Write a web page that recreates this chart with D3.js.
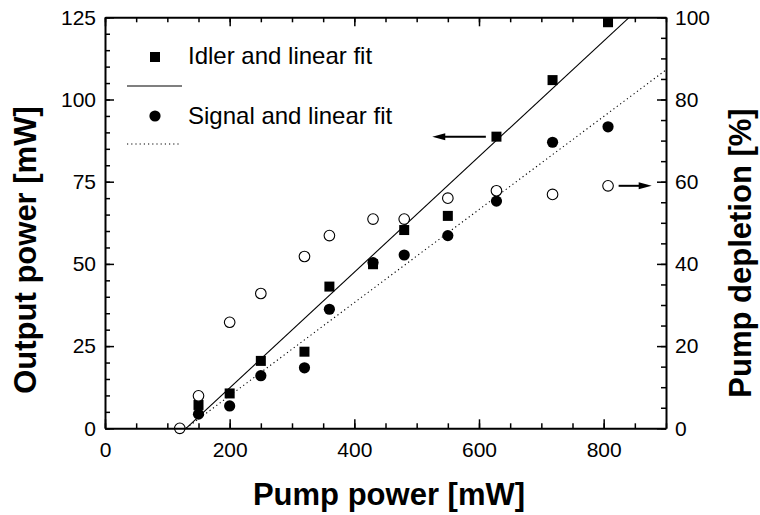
<!DOCTYPE html>
<html>
<head>
<meta charset="utf-8">
<script src="https://cdn.jsdelivr.net/npm/d3@7"></script>
<style>
  body { margin: 0; background: #fff; }
  text { font-family: "Liberation Sans", Arial, sans-serif; fill: #000; }
</style>
</head>
<body>
<div id="container"></div>
<script>
const width = 760, height = 515;
const margin = { top: 17.3, right: 94, bottom: 86.7, left: 105 };
const iw = width - margin.left - margin.right;
const ih = height - margin.top - margin.bottom;

// --- Data ---
const pumpPower = [150, 200, 250, 320, 360, 430, 480, 550, 628, 718, 807];
const idler = [7.1, 10.6, 20.5, 23.3, 43.1, 49.9, 60.3, 64.6, 88.7, 105.9, 123.5];
const signal = [4.3, 6.8, 16.0, 18.4, 36.2, 50.4, 52.7, 58.6, 69.1, 87.0, 91.7];
const depletionPump = [120, 150, 200, 250, 320, 360, 430, 480, 550, 628, 718, 807];
const depletion = [0, 7.9, 25.8, 32.8, 41.8, 46.9, 50.9, 50.9, 56.0, 57.8, 56.9, 59.0];
const idlerFit = [[130, 0], [841, 125]];
const signalFit = [[130, 0], [900, 109]];

const xMajor = [0, 200, 400, 600, 800];
const xMinor = d3.range(0, 901, 50);
const yLeftMajor = [0, 25, 50, 75, 100, 125];
const yLeftMinor = d3.range(0, 126, 5);
const yRightMajor = [0, 20, 40, 60, 80, 100];
const yRightMinor = d3.range(0, 101, 5);

// --- SVG mount ---
const svg = d3.select("#container")
  .append("svg").attr("width", width).attr("height", height);
const g = svg.append("g").attr("transform", `translate(${margin.left},${margin.top})`);

// --- Scales ---
const x = d3.scaleLinear().domain([0, 900]).range([0, iw]);
const y = d3.scaleLinear().domain([0, 125]).range([ih, 0]);
const y2 = d3.scaleLinear().domain([0, 100]).range([ih, 0]);

// --- Fit lines ---
const line = d3.line().x((d) => x(d[0])).y((d) => y(d[1]));
g.append("path").datum(idlerFit)
  .attr("fill", "none").attr("stroke", "#000").attr("stroke-width", 1.1)
  .attr("d", line);
g.append("path").datum(signalFit)
  .attr("fill", "none").attr("stroke", "#000").attr("stroke-width", 1.1)
  .attr("stroke-dasharray", "1.2,3")
  .attr("d", line);

// --- Markers ---
const sq = 10;
g.selectAll(".idler").data(pumpPower).join("rect")
  .attr("x", (d) => x(d) - sq / 2)
  .attr("y", (d, i) => y(idler[i]) - sq / 2)
  .attr("width", sq).attr("height", sq)
  .attr("fill", "#000");
g.selectAll(".signal").data(pumpPower).join("circle")
  .attr("cx", (d) => x(d))
  .attr("cy", (d, i) => y(signal[i]))
  .attr("r", 5.6)
  .attr("fill", "#000");
g.selectAll(".depl").data(depletionPump).join("circle")
  .attr("cx", (d) => x(d))
  .attr("cy", (d, i) => y2(depletion[i]))
  .attr("r", 5.3)
  .attr("fill", "#fff")
  .attr("stroke", "#000")
  .attr("stroke-width", 1.1);

// --- Axes ---
function styleAxis(ax, keepDomain) {
  ax.selectAll(".tick line").attr("stroke", "#000").attr("stroke-width", 1.5);
  ax.selectAll("text").style("font-size", "21px").attr("fill", "#000")
    .style("font-family", '"Liberation Sans", Arial, sans-serif');
  if (keepDomain) ax.select(".domain").attr("stroke", "#000").attr("stroke-width", 2);
  else ax.select(".domain").remove();
}

// bottom
styleAxis(g.append("g").attr("transform", `translate(0,${ih})`)
  .call(d3.axisBottom(x).tickValues(xMinor).tickSize(-5).tickSizeOuter(0).tickFormat("")), false);
styleAxis(g.append("g").attr("transform", `translate(0,${ih})`)
  .call(d3.axisBottom(x).tickValues(xMajor).tickSize(-9).tickSizeOuter(0).tickPadding(14)), true);
// top
styleAxis(g.append("g")
  .call(d3.axisTop(x).tickValues(xMinor).tickSize(-5).tickSizeOuter(0).tickFormat("")), false);
styleAxis(g.append("g")
  .call(d3.axisTop(x).tickValues(xMajor).tickSize(-9).tickSizeOuter(0).tickFormat("")), true);
// left
styleAxis(g.append("g")
  .call(d3.axisLeft(y).tickValues(yLeftMinor).tickSize(-5).tickSizeOuter(0).tickFormat("")), false);
styleAxis(g.append("g")
  .call(d3.axisLeft(y).tickValues(yLeftMajor).tickSize(-9).tickSizeOuter(0).tickPadding(9)), true);
// right
styleAxis(g.append("g").attr("transform", `translate(${iw},0)`)
  .call(d3.axisRight(y2).tickValues(yRightMinor).tickSize(-5).tickSizeOuter(0).tickFormat("")), false);
styleAxis(g.append("g").attr("transform", `translate(${iw},0)`)
  .call(d3.axisRight(y2).tickValues(yRightMajor).tickSize(-9).tickSizeOuter(0).tickPadding(9)), true);

// --- Arrows pointing to the matching axis ---
const arrows = [
  { scale: y, val: 88.7, from: 611, to: 525 },
  { scale: y2, val: 59.0, from: 824, to: 877 },
];
for (const a of arrows) {
  const yy = a.scale(a.val);
  const x0 = x(a.from), x1 = x(a.to);
  const dir = Math.sign(x1 - x0);
  g.append("line")
    .attr("x1", x0).attr("x2", x1 - dir * 10)
    .attr("y1", yy).attr("y2", yy)
    .attr("stroke", "#000").attr("stroke-width", 2);
  g.append("path")
    .attr("d", `M${x1},${yy}L${x1 - dir * 13},${yy - 3.5}L${x1 - dir * 13},${yy + 3.5}Z`)
    .attr("fill", "#000");
}

// --- Legend ---
const lg = svg.append("g").style("font-size", "24px");
lg.append("rect").attr("x", 150).attr("y", 52).attr("width", sq).attr("height", sq).attr("fill", "#000");
lg.append("text").attr("x", 188).attr("y", 64).text("Idler and linear fit");
lg.append("line").attr("x1", 127).attr("x2", 182).attr("y1", 86).attr("y2", 86)
  .attr("stroke", "#000").attr("stroke-width", 1.1);
lg.append("circle").attr("cx", 155).attr("cy", 116).attr("r", 5.6).attr("fill", "#000");
lg.append("text").attr("x", 188).attr("y", 124).text("Signal and linear fit");
lg.append("line").attr("x1", 127).attr("x2", 179).attr("y1", 144).attr("y2", 144)
  .attr("stroke", "#000").attr("stroke-width", 1.1).attr("stroke-dasharray", "1.2,3");

// --- Axis titles ---
svg.append("text")
  .attr("x", 389).attr("y", 505)
  .attr("text-anchor", "middle")
  .style("font-size", "31px").style("font-weight", "700")
  .text("Pump power [mW]");
svg.append("text")
  .attr("transform", "translate(36,250) rotate(-90)")
  .attr("text-anchor", "middle")
  .style("font-size", "31px").style("font-weight", "700")
  .text("Output power [mW]");
svg.append("text")
  .attr("transform", "translate(751,253) rotate(-90)")
  .attr("text-anchor", "middle")
  .style("font-size", "31px").style("font-weight", "700")
  .text("Pump depletion [%]");
</script>
</body>
</html>
